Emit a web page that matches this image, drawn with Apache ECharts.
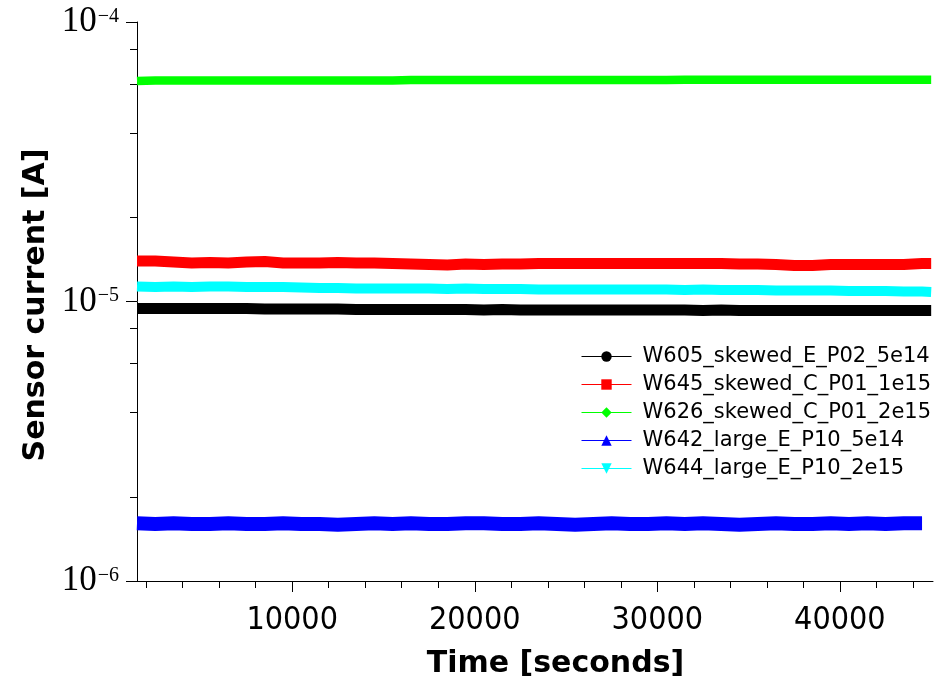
<!DOCTYPE html>
<html><head><meta charset="utf-8">
<script src="https://cdn.jsdelivr.net/npm/echarts@6/dist/echarts.min.js"></script>
<style>html,body{margin:0;padding:0;background:#fff}#c{width:945px;height:685px}</style>
</head><body><div id="c"></div>
<script>
const times = [1500,2500,3500,4500,5500,6500,7500,8500,9500,10500,11500,12500,13500,14500,15500,16500,17500,18500,19500,20500,21500,22500,23500,24500,25500,26500,27500,28500,29500,30500,31500,32500,33500,34500,35500,36500,37500,38500,39500,40500,41500,42500,43500,44500,45000];
const seriesNames = ['W605_skewed_E_P02_5e14','W645_skewed_C_P01_1e15','W626_skewed_C_P01_2e15','W642_large_E_P10_5e14','W644_large_E_P10_2e15'];
const w605 = [9.44e-6,9.44e-6,9.44e-6,9.44e-6,9.44e-6,9.44e-6,9.44e-6,9.40e-6,9.40e-6,9.40e-6,9.40e-6,9.40e-6,9.36e-6,9.36e-6,9.36e-6,9.36e-6,9.36e-6,9.36e-6,9.36e-6,9.32e-6,9.36e-6,9.32e-6,9.32e-6,9.32e-6,9.32e-6,9.32e-6,9.32e-6,9.32e-6,9.32e-6,9.32e-6,9.32e-6,9.29e-6,9.32e-6,9.29e-6,9.29e-6,9.29e-6,9.29e-6,9.29e-6,9.29e-6,9.29e-6,9.29e-6,9.29e-6,9.29e-6,9.29e-6,9.29e-6];
const w645 = [1.396e-5,1.396e-5,1.384e-5,1.373e-5,1.379e-5,1.373e-5,1.384e-5,1.390e-5,1.373e-5,1.373e-5,1.373e-5,1.379e-5,1.373e-5,1.373e-5,1.367e-5,1.362e-5,1.356e-5,1.351e-5,1.362e-5,1.356e-5,1.362e-5,1.362e-5,1.367e-5,1.367e-5,1.367e-5,1.367e-5,1.367e-5,1.367e-5,1.367e-5,1.367e-5,1.367e-5,1.367e-5,1.367e-5,1.362e-5,1.362e-5,1.356e-5,1.345e-5,1.345e-5,1.356e-5,1.356e-5,1.356e-5,1.356e-5,1.356e-5,1.367e-5,1.367e-5];
const w626 = [6.15e-5,6.18e-5,6.18e-5,6.18e-5,6.18e-5,6.18e-5,6.18e-5,6.18e-5,6.18e-5,6.18e-5,6.18e-5,6.18e-5,6.18e-5,6.18e-5,6.18e-5,6.20e-5,6.20e-5,6.20e-5,6.20e-5,6.20e-5,6.20e-5,6.20e-5,6.20e-5,6.20e-5,6.20e-5,6.20e-5,6.20e-5,6.20e-5,6.20e-5,6.20e-5,6.22e-5,6.22e-5,6.22e-5,6.22e-5,6.22e-5,6.22e-5,6.22e-5,6.22e-5,6.22e-5,6.22e-5,6.22e-5,6.22e-5,6.22e-5,6.22e-5,6.22e-5];
const w642 = [1.61e-6,1.60e-6,1.61e-6,1.60e-6,1.60e-6,1.61e-6,1.60e-6,1.60e-6,1.61e-6,1.60e-6,1.60e-6,1.59e-6,1.60e-6,1.61e-6,1.60e-6,1.61e-6,1.60e-6,1.60e-6,1.61e-6,1.61e-6,1.60e-6,1.60e-6,1.61e-6,1.60e-6,1.59e-6,1.60e-6,1.61e-6,1.60e-6,1.60e-6,1.61e-6,1.60e-6,1.61e-6,1.60e-6,1.59e-6,1.60e-6,1.61e-6,1.60e-6,1.60e-6,1.61e-6,1.60e-6,1.61e-6,1.60e-6,1.61e-6,1.61e-6,null];
const w644 = [1.132e-5,1.127e-5,1.132e-5,1.127e-5,1.132e-5,1.132e-5,1.127e-5,1.127e-5,1.127e-5,1.122e-5,1.118e-5,1.118e-5,1.113e-5,1.113e-5,1.113e-5,1.113e-5,1.113e-5,1.109e-5,1.113e-5,1.109e-5,1.109e-5,1.109e-5,1.104e-5,1.104e-5,1.104e-5,1.104e-5,1.104e-5,1.104e-5,1.104e-5,1.104e-5,1.099e-5,1.104e-5,1.099e-5,1.099e-5,1.099e-5,1.095e-5,1.095e-5,1.095e-5,1.095e-5,1.090e-5,1.090e-5,1.090e-5,1.086e-5,1.086e-5,1.082e-5];
const xMajorTicks = [10000,20000,30000,40000];
const xMinorTicks = [2000,4000,6000,8000,12000,14000,16000,18000,22000,24000,26000,28000,32000,34000,36000,38000,42000,44000];
const yMinorTicks = [2e-6,4e-6,6e-6,8e-6,2e-5,4e-5,6e-5,8e-5];

const allValues = [w605, w645, w626, w642, w644];
const colors = ['#000000','#ff0000','#00ff00','#0000ff','#00ffff'];
const symbols = ['circle','rect','diamond','triangle','triangle'];
const rotations = [0,0,0,0,180];
const widths = [11,11,8.5,14,10];

const chart = echarts.init(document.getElementById('c'), null, {renderer:'canvas'});
const series = seriesNames.map((name,i)=>({
  name: name, type:'line', xAxisIndex:0, yAxisIndex:0,
  data: times.map((t,j)=>[t, allValues[i][j]]),
  showSymbol:false, symbol:symbols[i], symbolRotate:rotations[i],
  color: colors[i],
  lineStyle:{color:colors[i], width:widths[i], cap:'butt', join:'round'},
  itemStyle:{color:colors[i]},
  silent:true, animation:false, connectNulls:false
}));

const xMin = 1500, xMax = 45100;
chart.setOption({
  animation:false,
  backgroundColor:'#ffffff',
  grid:{left:137, right:12, top:22, bottom:104, containLabel:false},
  legend:{
    orient:'vertical', left:581, top:346, padding:0,
    itemWidth:50, itemHeight:13, itemGap:7,
    data: seriesNames,
    lineStyle:{width:1},
    textStyle:{fontFamily:'DejaVu Sans', fontSize:21, color:'#000', padding:[0,0,0,6]},
    selectedMode:false
  },
  xAxis:[{
    type:'value', min:xMin, max:xMax, position:'bottom',
    name:'Time [seconds]', nameLocation:'middle', nameGap:68,
    nameTextStyle:{fontFamily:'DejaVu Sans', fontWeight:'bold', fontSize:30, color:'#000', padding:[0,0,0,41]},
    axisLine:{show:true, onZero:false, lineStyle:{color:'#000', width:1}},
    axisTick:{show:true, inside:false, length:11, customValues:xMajorTicks, lineStyle:{color:'#000', width:1}},
    axisLabel:{show:true, margin:24, customValues:xMajorTicks, formatter:function(v){return String(v);},
      fontFamily:"'DejaVu Sans Condensed', 'Liberation Sans', sans-serif", fontSize:32, color:'#000'},
    splitLine:{show:false}
  },{
    type:'value', min:xMin, max:xMax, position:'bottom',
    axisLine:{show:false},
    axisTick:{show:true, inside:false, length:7, customValues:xMinorTicks, lineStyle:{color:'#000', width:1}},
    axisLabel:{show:false},
    splitLine:{show:false}
  }],
  yAxis:[{
    type:'log', logBase:10, min:1e-6, max:1e-4, position:'left',
    name:'Sensor current [A]', nameLocation:'middle', nameGap:82, nameRotate:90,
    nameTextStyle:{fontFamily:'DejaVu Sans', fontWeight:'bold', fontSize:30, color:'#000', padding:[0,7,0,0]},
    axisLine:{show:true, onZero:false, lineStyle:{color:'#000', width:1}},
    axisTick:{show:true, inside:false, length:11, lineStyle:{color:'#000', width:1}},
    axisLabel:{show:true, margin:18,
      formatter:function(v){
        const e = Math.round(Math.log10(v));
        return '{b|10}{s|' + (e<0 ? '\u2212' : '') + Math.abs(e) + '}';
      },
      rich:{
        b:{fontFamily:'Liberation Serif', fontSize:35, color:'#000'},
        s:{fontFamily:'Liberation Serif', fontSize:20, color:'#000', verticalAlign:'top', padding:[2,0,0,1]}
      }
    },
    splitLine:{show:false}
  },{
    type:'log', logBase:10, min:1e-6, max:1e-4, position:'left',
    axisLine:{show:false},
    axisTick:{show:true, inside:false, length:7, customValues:yMinorTicks, lineStyle:{color:'#000', width:1}},
    axisLabel:{show:false},
    splitLine:{show:false}
  }],
  series: series
});
</script>
</body></html>
